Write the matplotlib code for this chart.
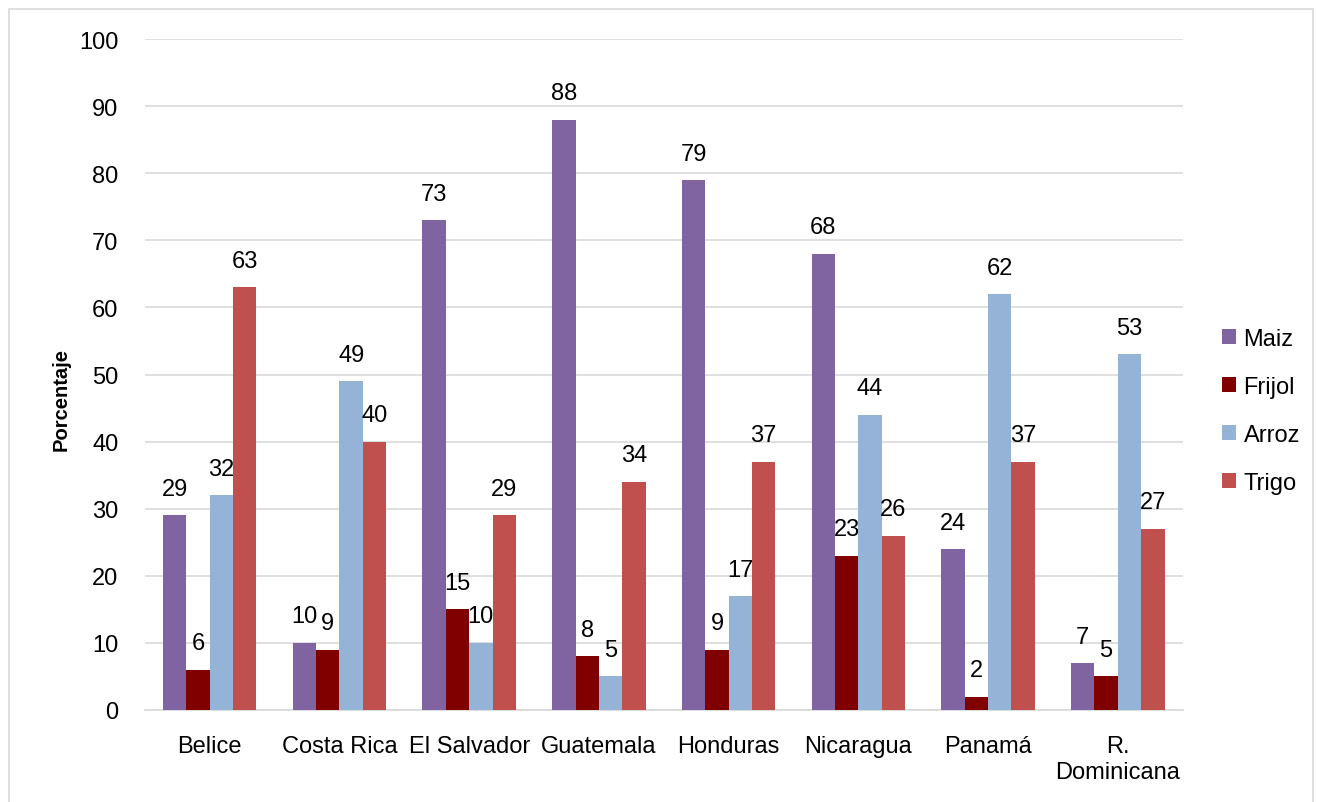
import numpy as np
import matplotlib.pyplot as plt
from matplotlib.patches import Rectangle

countries = ['Belice', 'Costa Rica', 'El Salvador', 'Guatemala', 'Honduras',
             'Nicaragua', 'Panamá', 'R.\nDominicana']
maiz = [29, 10, 73, 88, 79, 68, 24, 7]
frijol = [6, 9, 15, 8, 9, 23, 2, 5]
arroz = [32, 49, 10, 5, 17, 44, 62, 53]
trigo = [63, 40, 29, 34, 37, 26, 37, 27]

series = {'Maiz': maiz, 'Frijol': frijol, 'Arroz': arroz, 'Trigo': trigo}
colors = ['#8064A2', '#800000', '#95B3D7', '#C0504D']

plt.rcParams['font.family'] = ['Liberation Sans', 'DejaVu Sans']

fig = plt.figure(figsize=(13.17, 8.03), dpi=100)
ax = fig.add_axes([0.110, 0.1146, 0.788, 0.8354])

# light frame round the chart
fig.patches.append(Rectangle((9 / 1317, -0.01), 1304 / 1317, 1 - 10 / 803 + 0.01,
                             transform=fig.transFigure, fill=False,
                             edgecolor='#D9D9D9', linewidth=1.2))

x = np.arange(len(countries))
w = 0.18
for i, (name, vals) in enumerate(series.items()):
    pos = x + (i - 1.5) * w
    bars = ax.bar(pos, vals, w, color=colors[i], label=name, zorder=3)
    for b, v in zip(bars, vals):
        ax.text(b.get_x() + b.get_width() / 2, v + 2.3, str(v),
                ha='center', va='bottom', fontsize=17)

ax.set_ylim(0, 100)
ax.set_xlim(-0.5, len(countries) - 0.5)
ax.set_yticks(range(0, 101, 10))
ax.set_xticks(x)
ax.set_xticklabels(countries, fontsize=17, linespacing=1.25)
ax.tick_params(axis='y', labelsize=17, length=0, pad=19)
ax.tick_params(axis='x', length=0, pad=18)
ax.grid(axis='y', color='#D9D9D9', linewidth=1.2, zorder=0)
for s in ['top', 'right', 'left']:
    ax.spines[s].set_visible(False)
ax.spines['bottom'].set_color('#D9D9D9')
ax.spines['bottom'].set_linewidth(1.2)
ax.set_ylabel('Porcentaje', fontsize=14.5, fontweight='bold')
ax.yaxis.set_label_coords(-0.072, 0.465)

ax.legend(loc='center left', bbox_to_anchor=(1201 / 1317, 0.487),
          bbox_transform=fig.transFigure, frameon=False,
          fontsize=17, handlelength=0.6, handleheight=0.6, handletextpad=0.3,
          labelspacing=1.1)

fig.savefig('out.png', dpi=100)
